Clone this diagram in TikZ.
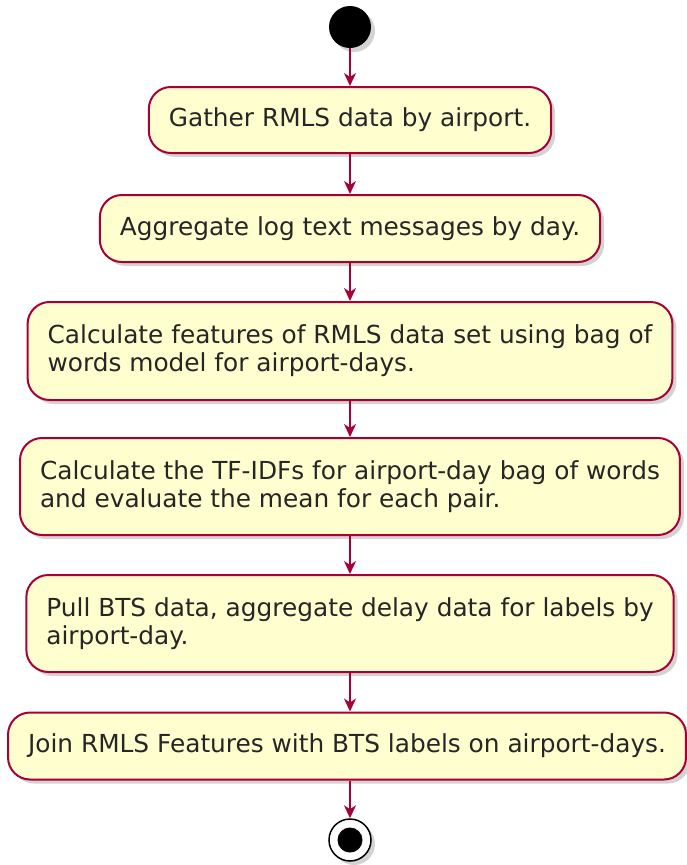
\documentclass[tikz,border=0pt]{standalone}
\usepackage{fontspec}
\setmainfont{DejaVu Sans}
\usetikzlibrary{shapes.geometric,positioning,arrows.meta,shadows}
\usepackage{xcolor}
\definecolor{actfill}{HTML}{FEFECE}
\definecolor{actline}{HTML}{A80036}

\begin{document}
\begin{tikzpicture}[x=1pt, y=-1pt,
  activity/.style={rectangle, rounded corners=22pt, draw=actline, line width=2pt, fill=actfill,
    inner xsep=20pt, inner ysep=0pt, align=left, text=black!85,
    font=\fontsize{24.8}{28}\selectfont,
    drop shadow={shadow xshift=4pt, shadow yshift=-4pt, opacity=0.35}},
  flow/.style={-{Stealth[length=13pt, width=12pt, inset=4pt]}, draw=actline, line width=1.6pt}]
  \useasboundingbox (0,0) rectangle (686,865);
  % Nodes
  \node (start) [circle, fill=black, minimum size=42pt, inner sep=0pt,
    drop shadow={shadow xshift=4pt, shadow yshift=-4pt, opacity=0.35}] at (350, 27) {};
  \node (gather) [activity, minimum height=66pt] at (350, 120) {Gather RMLS data by airport.};
  \node (aggr) [activity, minimum height=67pt] at (350, 228.5) {Aggregate log text messages by day.};
  \node (feat) [activity, minimum height=98pt] at (350, 351) {Calculate features of RMLS data set using bag of\\words model for airport-days.};
  \node (tfidf) [activity, minimum height=97pt] at (350, 486.5) {Calculate the TF-IDFs for airport-day bag of words\\and evaluate the mean for each pair.};
  \node (bts) [activity, minimum height=97pt] at (350, 623.5) {Pull BTS data, aggregate delay data for labels by\\airport-day.};
  \node (join) [activity, minimum height=67pt] at (347, 746) {Join RMLS Features with BTS labels on airport-days.};
  \node (stop) [circle, draw=black, line width=1.5pt, fill=white, minimum size=42pt, inner sep=0pt,
    drop shadow={shadow xshift=4pt, shadow yshift=-4pt, opacity=0.35}] at (350, 840) {};
  \node (stopdot) [circle, fill=black, minimum size=25pt, inner sep=0pt] at (stop) {};
  % Arrows
  \draw[flow] (start) -- (gather);
  \draw[flow] (gather) -- (aggr);
  \draw[flow] (aggr) -- (feat);
  \draw[flow] (feat) -- (tfidf);
  \draw[flow] (tfidf) -- (bts);
  \draw[flow] (bts) -- (join.north -| bts.south);
  \draw[flow] (join.south -| stop.north) -- (stop);
\end{tikzpicture}
\end{document}
